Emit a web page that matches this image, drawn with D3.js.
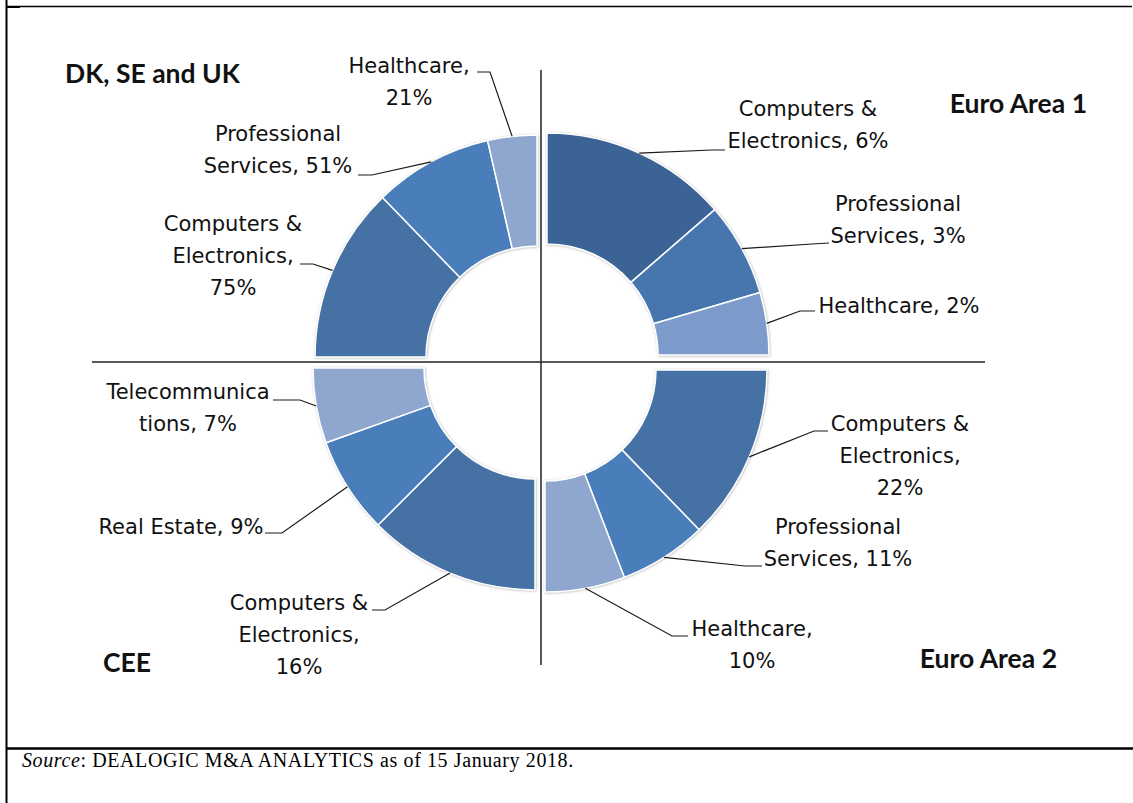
<!DOCTYPE html>
<html>
<head>
<meta charset="utf-8">
<script src="https://cdn.jsdelivr.net/npm/d3@7"></script>
<style>
  body { margin: 0; background: #fff; }
  svg { display: block; }
</style>
</head>
<body>
<div id="chart"></div>
<script>
// values (% of deals per sector)
var regions = ["DK, SE and UK", "Euro Area 1", "Euro Area 2", "CEE"];
var dkSectors = ["Computers & Electronics", "Professional Services", "Healthcare"];
var dkValues = [75, 51, 21];
var ea1Sectors = ["Computers & Electronics", "Professional Services", "Healthcare"];
var ea1Values = [6, 3, 2];
var ea2Sectors = ["Computers & Electronics", "Professional Services", "Healthcare"];
var ea2Values = [22, 11, 10];
var ceeSectors = ["Computers & Electronics", "Real Estate", "Telecommunications"];
var ceeValues = [16, 9, 7];
var sourceNote = "DEALOGIC M&A ANALYTICS as of 15 January 2018.";

var width = 1133,
  height = 803,
  cx = 541, cy = 362, // where the two cross lines meet
  outerR = 222,
  innerR = 111;

// one quarter of the ring for each region, nudged a bit away from the cross
var quads = [
  { name: regions[0], sectors: dkSectors, values: dkValues, start: -Math.PI / 2, end: 0, dx: -4, dy: -5,
    colors: ["#4571a5", "#4a7ebb", "#8fa6cf"], title: [65, 83, "start"] },
  { name: regions[1], sectors: ea1Sectors, values: ea1Values, start: 0, end: Math.PI / 2, dx: 6, dy: -7,
    colors: ["#3b6495", "#4676ae", "#7c9bca"], title: [1087, 113, "end"] },
  { name: regions[2], sectors: ea2Sectors, values: ea2Values, start: Math.PI / 2, end: Math.PI, dx: 4, dy: 8,
    colors: ["#4571a5", "#4a7ebb", "#8fa6cf"], title: [1057, 668, "end"] },
  { name: regions[3], sectors: ceeSectors, values: ceeValues, start: Math.PI, end: Math.PI * 1.5, dx: -6, dy: 6,
    colors: ["#4571a5", "#4a7ebb", "#8fa6cf"], title: [103, 672, "start"] }
];

// label boxes: text centre x, first baseline, wrap width (chars), leader knee and end
var labelLayout = [
  [ { x: 233, y: 231, wrap: 13, knee: [313, 264], end: [300, 264] },
    { x: 278, y: 141, wrap: 13, knee: [372, 175], end: [358, 175] },
    { x: 409, y: 73, wrap: 13, knee: [490, 72], end: [477, 72] } ],
  [ { x: 808, y: 116, wrap: 15, knee: [712, 150], end: [725, 150] },
    { x: 898, y: 211, wrap: 13, knee: [812, 244], end: [829, 243] },
    { x: 899, y: 313, wrap: 15, knee: [800, 311], end: [815, 311] } ],
  [ { x: 900, y: 431, wrap: 13, knee: [814, 431], end: [828, 431] },
    { x: 838, y: 534, wrap: 13, knee: [745, 566], end: [762, 566] },
    { x: 752, y: 636, wrap: 13, knee: [672, 636], end: [688, 636] } ],
  [ { x: 299, y: 610, wrap: 13, knee: [385, 610], end: [372, 610] },
    { x: 181, y: 534, wrap: 15, knee: [282, 533], end: [265, 533] },
    { x: 188, y: 399, wrap: 13, knee: [300, 400], end: [273, 400] } ]
];

// crude word wrap, breaking long words like the original does
function wrapText(str, n) {
  var lines = [], cur = "";
  str.split(" ").forEach(function(w) {
    var test = cur ? cur + " " + w : w;
    if (test.length <= n) { cur = test; return; }
    if (cur) lines.push(cur);
    while (w.length > n) { lines.push(w.slice(0, n)); w = w.slice(n); }
    cur = w;
  });
  if (cur) lines.push(cur);
  return lines;
}

var svg = d3.select("#chart")
  .append("svg")
  .attr("width", width)
  .attr("height", height);

var defs = svg.append("defs");
defs.append("filter")
  .attr("id", "shade")
  .attr("x", "-10%").attr("y", "-10%").attr("width", "120%").attr("height", "120%")
  .append("feDropShadow")
  .attr("dx", 0.5).attr("dy", 0.5)
  .attr("stdDeviation", 1.2)
  .attr("flood-color", "#777")
  .attr("flood-opacity", 0.55);

// frame
var frame = svg.append("g").attr("stroke", "#000").attr("fill", "none");
frame.append("line").attr("x1", 6.5).attr("x2", 6.5).attr("y1", 0).attr("y2", height).attr("stroke-width", 2);
frame.append("line").attr("x1", 6).attr("x2", 1132).attr("y1", 6.5).attr("y2", 6.5).attr("stroke-width", 1.3);
frame.append("line").attr("x1", 7).attr("x2", 20).attr("y1", 7).attr("y2", 7).attr("stroke-width", 2);
frame.append("line").attr("x1", 6).attr("x2", width).attr("y1", 748.5).attr("y2", 748.5).attr("stroke-width", 2.5);

var arc = d3.arc()
  .innerRadius(innerR)
  .outerRadius(outerR);

var labelFont = "'DejaVu Sans', Verdana, sans-serif";

quads.forEach(function(q, qi) {
  var rows = q.sectors.map(function(s, i) { return { sector: s, value: q.values[i] }; });
  var pie = d3.pie()
    .sort(null)
    .startAngle(q.start)
    .endAngle(q.end)
    .value(function(d) { return d.value; })(rows);

  var color = d3.scaleOrdinal().domain(q.sectors).range(q.colors);
  var ox = cx + q.dx, oy = cy + q.dy;

  var g = svg.append("g")
    .attr("transform", "translate(" + ox + "," + oy + ")");

  g.append("g")
    .attr("filter", "url(#shade)")
    .selectAll("path")
    .data(pie)
    .enter().append("path")
    .attr("d", arc)
    .attr("fill", function(d) { return color(d.data.sector); })
    .attr("stroke", "#fff")
    .attr("stroke-width", 1.5);

  // leaders + labels
  pie.forEach(function(d, i) {
    var lay = labelLayout[qi][i];
    var a = (d.startAngle + d.endAngle) / 2;
    var p0 = [ox + outerR * Math.sin(a), oy - outerR * Math.cos(a)];
    svg.append("polyline")
      .attr("points", [p0, lay.knee, lay.end].map(function(p) { return p.join(","); }).join(" "))
      .attr("fill", "none")
      .attr("stroke", "#1a1a1a")
      .attr("stroke-width", 1.2);

    var lines = wrapText(d.data.sector + ", " + d.data.value + "%", lay.wrap);
    var t = svg.append("text")
      .attr("text-anchor", "middle")
      .attr("font-family", labelFont)
      .attr("font-size", 21)
      .attr("fill", "#111");
    lines.forEach(function(l, li) {
      t.append("tspan").attr("x", lay.x).attr("y", lay.y + li * 32).text(l);
    });
  });

  svg.append("text")
    .attr("x", q.title[0])
    .attr("y", q.title[1])
    .attr("text-anchor", q.title[2])
    .attr("font-family", "Lato, 'Open Sans', sans-serif")
    .attr("font-weight", "bold")
    .attr("font-size", 26.5)
    .attr("fill", "#111")
    .text(q.name);
});

// cross lines splitting the four regions
svg.append("line")
  .attr("x1", cx).attr("x2", cx).attr("y1", 70).attr("y2", 665)
  .attr("stroke", "#222").attr("stroke-width", 1.5);
svg.append("line")
  .attr("x1", 92).attr("x2", 985).attr("y1", cy).attr("y2", cy)
  .attr("stroke", "#222").attr("stroke-width", 1.5);

var src = svg.append("text")
  .attr("x", 22)
  .attr("y", 767)
  .attr("font-family", "'Liberation Serif', 'Times New Roman', serif")
  .attr("font-size", 20)
  .attr("letter-spacing", 0.6)
  .attr("fill", "#000");
src.append("tspan").attr("font-style", "italic").text("Source");
src.append("tspan").text(": " + sourceNote);
</script>
</body>
</html>
